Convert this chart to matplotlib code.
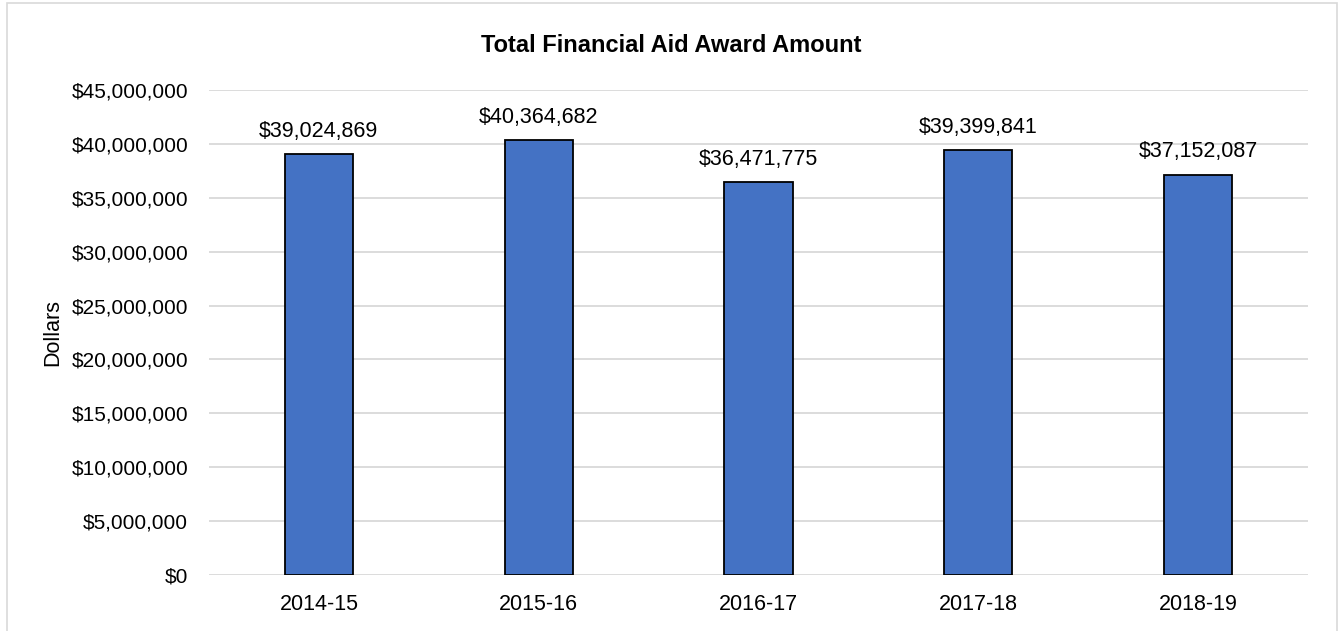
import matplotlib
matplotlib.use('Agg')
import matplotlib.pyplot as plt
from matplotlib.patches import Rectangle
from matplotlib.ticker import FuncFormatter

years = ['2014-15', '2015-16', '2016-17', '2017-18', '2018-19']
amounts = [39024869, 40364682, 36471775, 39399841, 37152087]

plt.rcParams['font.family'] = ['Liberation Sans Narrow', 'Liberation Sans', 'DejaVu Sans']

fig = plt.figure(figsize=(13.43, 6.31), dpi=100)
ax = fig.add_axes([209 / 1343, 1 - 575 / 631, (1308 - 209) / 1343, (575 - 90) / 631])

# chart border
fig.patches.append(Rectangle((7 / 1343, -0.1), (1337 - 7) / 1343, 1.1 - 3 / 631,
                             transform=fig.transFigure, fill=False,
                             edgecolor='#d9d9d9', linewidth=1.2))

x = range(len(years))
bars = ax.bar(x, amounts, width=0.31, color='#4472C4', edgecolor='black', linewidth=1.3, zorder=3)

for xi, v in zip(x, amounts):
    ax.text(xi, v + 1150000, '${:,}'.format(v), ha='center', va='bottom', fontsize=15.5)

ax.set_xlim(-0.5, 4.5)
ax.set_ylim(0, 45000000)
ax.set_yticks(range(0, 45000001, 5000000))
ax.yaxis.set_major_formatter(FuncFormatter(lambda v, p: '${:,.0f}'.format(v)))
ax.set_xticks(list(x))
ax.set_xticklabels(years)
ax.tick_params(axis='y', length=0, labelsize=15, pad=15)
ax.tick_params(axis='x', length=0, labelsize=15.5, pad=14)
ax.grid(axis='y', color='#d9d9d9', linewidth=1.3, zorder=0)
for s in ax.spines.values():
    s.set_visible(False)

fig.text(53 / 1343, 1 - 333 / 631, 'Dollars', rotation=90, ha='center', va='center', fontsize=15.5)
fig.text(0.5, 1 - 45 / 631, 'Total Financial Aid Award Amount', ha='center', va='center',
         fontsize=17, fontweight='bold')

fig.savefig('out.png', dpi=100)
